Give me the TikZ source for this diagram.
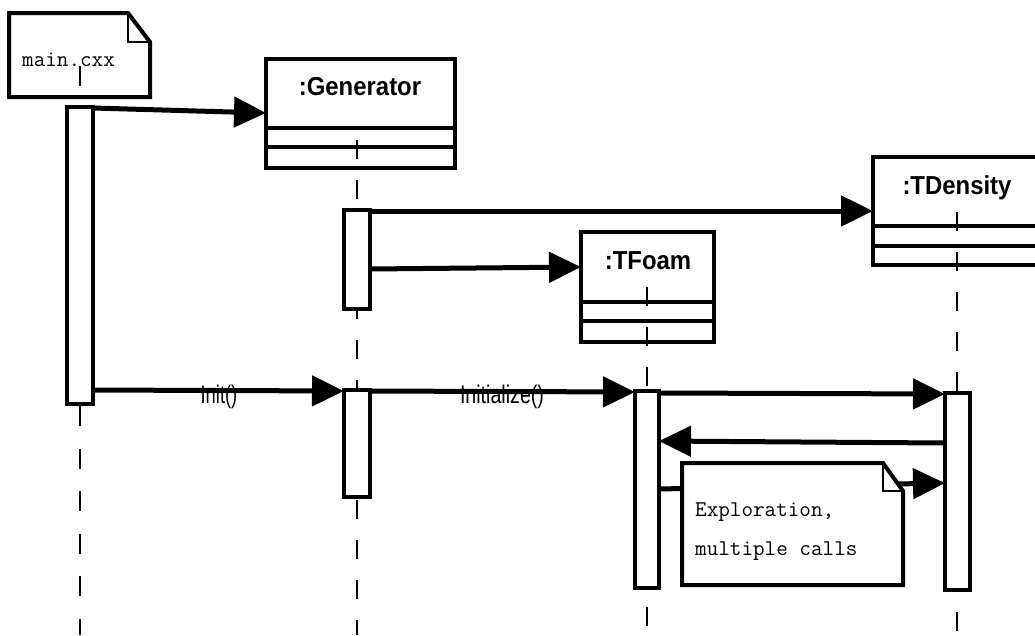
\documentclass[tikz,border=0pt]{standalone}
\usepackage{graphicx}
\usepackage{fontspec}
\setmainfont{Liberation Sans}
\usetikzlibrary{arrows.meta}
\tikzset{
  objbox/.style={draw, line width=4pt, fill=white, inner sep=0pt, outer sep=0pt, anchor=north west},
  act/.style={draw, line width=4pt, fill=white, inner sep=0pt, outer sep=0pt, anchor=north west},
  msg/.style={line width=5pt, -{Triangle[length=32pt,width=30pt]}},
  lifeline/.style={line width=2pt, dash pattern=on 19pt off 21pt},
  notebody/.style={draw, line width=4pt, fill=white, line join=miter},
  notefold/.style={draw, line width=2pt},
  compline/.style={line width=4pt},
  boxtitle/.style={font=\bfseries\fontsize{26}{30}\selectfont, anchor=base, inner sep=0pt},
  msglabel/.style={font=\fontsize{25.5}{30}\selectfont, anchor=base, inner sep=0pt},
  notetext/.style={font=\ttfamily\fontsize{22.5}{26}\selectfont, anchor=base west, inner sep=0pt},
}
\begin{document}
\begin{tikzpicture}[x=1pt,y=-1pt]
\useasboundingbox (0,0) rectangle (1035,635);
\clip (0,0) rectangle (1035,635);
\fill[white] (0,0) rectangle (1035,635);

% main.cxx note
\draw[notebody] (9,13) -- (128,13) -- (150,42) -- (150,97) -- (9,97) -- cycle;
\draw[notefold] (128,13) -- (128,42) -- (150,42);
\node[notetext] (maintext) at (22,66) {main.cxx};

% object boxes
\node[objbox, minimum width=189pt, minimum height=109pt] (gen) at (266,59) {};
\node[objbox, minimum width=133pt, minimum height=110pt] (foam) at (581,232) {};
\node[objbox, minimum width=180pt, minimum height=108pt] (dens) at (873,157) {};
\draw[compline] (gen.west |- 0,128) -- (gen.east |- 0,128);
\draw[compline] (gen.west |- 0,147) -- (gen.east |- 0,147);
\draw[compline] (foam.west |- 0,302) -- (foam.east |- 0,302);
\draw[compline] (foam.west |- 0,321) -- (foam.east |- 0,321);
\draw[compline] (dens.west |- 0,226) -- (dens.east |- 0,226);
\draw[compline] (dens.west |- 0,246) -- (dens.east |- 0,246);
\node[boxtitle] (gentitle) at (360,95) {\scalebox{0.92}[1]{:Generator}};
\node[boxtitle] (foamtitle) at (648,269) {\scalebox{0.92}[1]{:TFoam}};
\node[boxtitle] (denstitle) at (957,194) {\scalebox{0.92}[1]{:TDensity}};

% lifelines
\draw[lifeline, dash pattern=on 20pt off 22.5pt] (80,66) -- (80,635);
\draw[lifeline] (357,140) -- (357,635);
\draw[lifeline] (647,287) -- (647,635);
\draw[lifeline] (957,212) -- (957,635);

% activation bars
\node[act, minimum width=26pt, minimum height=297pt] (actM) at (67,107) {};
\node[act, minimum width=26pt, minimum height=99pt] (actG1) at (344,210) {};
\node[act, minimum width=26pt, minimum height=107pt] (actG2) at (344,390) {};
\node[act, minimum width=24pt, minimum height=197pt] (actF) at (635,391) {};
\node[act, minimum width=25pt, minimum height=197pt] (actD) at (945,393) {};

% messages
\draw[msg] (actM.east |- 0,108) -- (gen.west |- 0,113);
\draw[msg] (actG1.east |- 0,211) -- (dens.west |- 0,211);
\draw[msg] (actG1.east |- 0,269) -- (foam.west |- 0,267);
\draw[msg] (actM.east |- 0,390) -- (actG2.west |- 0,391);
\draw[msg] (actG2.east |- 0,391) -- (actF.west |- 0,392);
\draw[msg] (actF.east |- 0,393) -- (actD.west |- 0,394);
\draw[msg] (actD.west |- 0,443) -- (actF.east |- 0,441);
\draw[msg] (actF.east |- 0,489) -- (actD.west |- 0,483);

% exploration note
\draw[notebody] (682,463) -- (883,463) -- (903,491) -- (903,585) -- (682,585) -- cycle;
\draw[notefold] (883,463) -- (883,491) -- (903,491);
\node[notetext] (explA) at (695,516) {Exploration,};
\node[notetext] (explB) at (695,555) {multiple calls};

% message labels
\node[msglabel] (initlab) at (219,403) {\scalebox{0.72}[1]{Init()}};
\node[msglabel] (initializelab) at (502,403) {\scalebox{0.77}[1]{Initialize()}};
\end{tikzpicture}
\end{document}
